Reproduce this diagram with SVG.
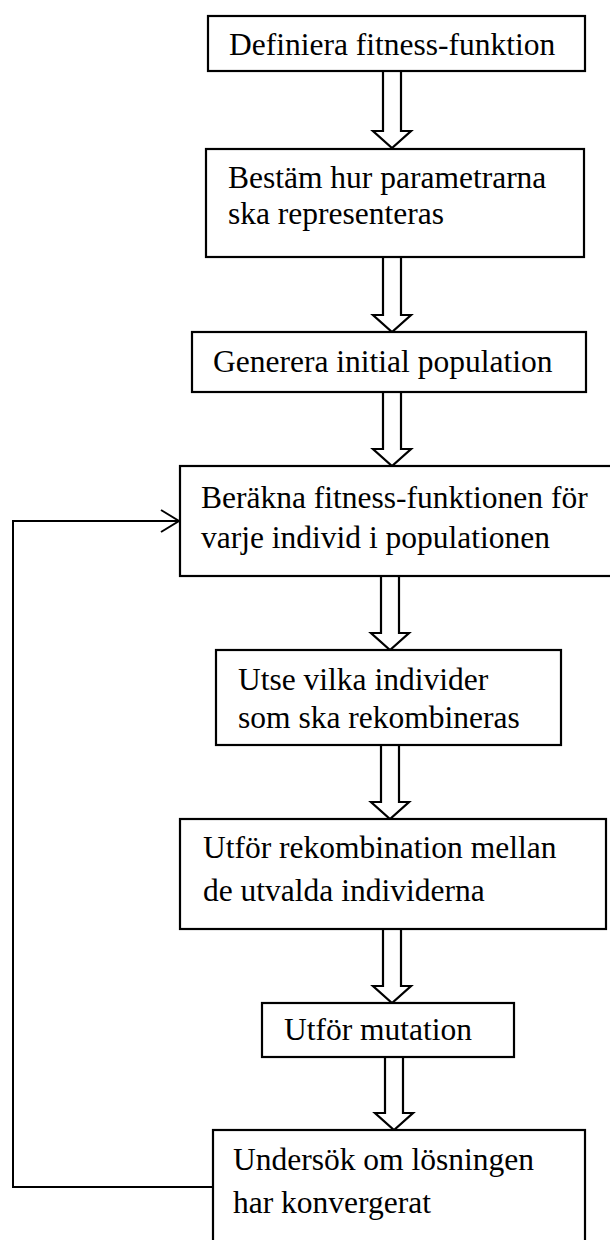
<svg xmlns="http://www.w3.org/2000/svg" width="610" height="1240" viewBox="0 0 610 1240">
  <style>
    .box { fill: #ffffff; stroke: #000000; stroke-width: 2.2; }
    .lbl { font-family: "Liberation Serif", "Times New Roman", serif; font-size: 31.5px; fill: #000000; }
    .blk { fill: #ffffff; stroke: #000000; stroke-width: 2.2; stroke-linejoin: miter; }
    .line { fill: none; stroke: #000000; stroke-width: 2; }
  </style>
  <rect width="610" height="1240" fill="#ffffff"/>

  <!-- connectors: hollow block arrows between steps, plus the loop back -->
  <g id="connectors">
    <path class="blk" d="M383,71 V131 H373 L392,148 L411,131 H401 V71 Z"/>
    <path class="blk" d="M383,257 V315 H373 L392,332 L411,315 H401 V257 Z"/>
    <path class="blk" d="M383,392 V449 H373 L392,466 L411,449 H401 V392 Z"/>
    <path class="blk" d="M381,576 V633 H371 L390,650 L409,633 H399 V576 Z"/>
    <path class="blk" d="M381,745 V802 H371 L390,819 L409,802 H399 V745 Z"/>
    <path class="blk" d="M383,929 V986 H373 L392,1003 L411,986 H401 V929 Z"/>
    <path class="blk" d="M385,1057 V1113 H375 L394,1130 L413,1113 H403 V1057 Z"/>
    <polyline class="line" points="213,1187 13,1187 13,521 179,521"/>
    <polyline class="line" points="161,510 179,521 161,532"/>
  </g>

  <g id="step-define-fitness">
    <rect class="box" x="208" y="16" width="377" height="55"/>
    <text class="lbl" x="229" y="55">Definiera fitness-funktion</text>
  </g>

  <g id="step-representation">
    <rect class="box" x="206" y="149" width="378" height="108"/>
    <text class="lbl" x="228" y="188">Bestäm hur parametrarna</text>
    <text class="lbl" x="228" y="224">ska representeras</text>
  </g>

  <g id="step-initial-population">
    <rect class="box" x="192" y="332" width="394" height="60"/>
    <text class="lbl" x="213" y="372">Generera initial population</text>
  </g>

  <g id="step-evaluate">
    <rect class="box" x="180" y="466" width="432" height="110"/>
    <text class="lbl" x="201" y="508">Beräkna fitness-funktionen för</text>
    <text class="lbl" x="201" y="548">varje individ i populationen</text>
  </g>

  <g id="step-select">
    <rect class="box" x="216" y="650" width="345" height="95"/>
    <text class="lbl" x="238" y="690">Utse vilka individer</text>
    <text class="lbl" x="238" y="728">som ska rekombineras</text>
  </g>

  <g id="step-recombine">
    <rect class="box" x="180" y="819" width="426" height="110"/>
    <text class="lbl" x="203" y="858">Utför rekombination mellan</text>
    <text class="lbl" x="203" y="901">de utvalda individerna</text>
  </g>

  <g id="step-mutate">
    <rect class="box" x="262" y="1003" width="252" height="54"/>
    <text class="lbl" x="284" y="1040">Utför mutation</text>
  </g>

  <g id="step-convergence">
    <rect class="box" x="213" y="1130" width="372" height="130"/>
    <text class="lbl" x="233" y="1170">Undersök om lösningen</text>
    <text class="lbl" x="233" y="1213">har konvergerat</text>
  </g>
</svg>
